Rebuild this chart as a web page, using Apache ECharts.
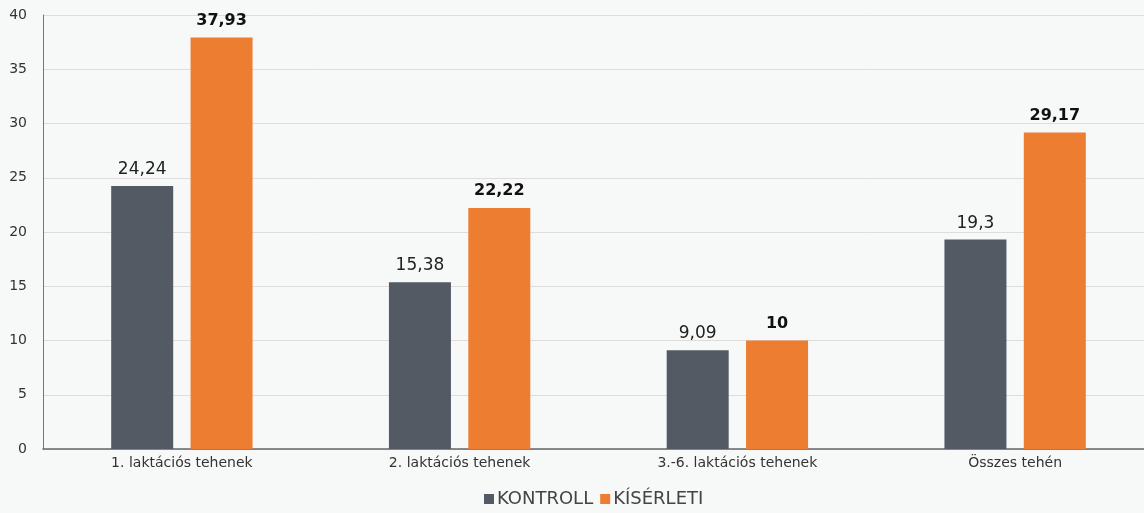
<!DOCTYPE html>
<html>
<head>
<meta charset="utf-8">
<script src="https://cdn.jsdelivr.net/npm/echarts@6/dist/echarts.min.js"></script>
<style>
  html, body { margin: 0; padding: 0; background: #f7f8f8; }
  #chart { width: 1144px; height: 513px; }
</style>
</head>
<body>
<div id="chart"></div>
<script>
// Kategóriák és a két csoport értékei
const categories = ['1. laktációs tehenek', '2. laktációs tehenek', '3.-6. laktációs tehenek', 'Összes tehén'];
const kontroll = [24.24, 15.38, 9.09, 19.3];
const kiserleti = [37.93, 22.22, 10, 29.17];
const seriesNames = ['KONTROLL', 'KÍSÉRLETI'];

const FONT = '"DejaVu Sans", "Noto Sans", sans-serif';
const comma = p => String(p.value).replace('.', ',');

const chart = echarts.init(document.getElementById('chart'));
chart.setOption({
  backgroundColor: '#f7f8f8',
  animation: false,
  textStyle: { fontFamily: FONT },
  grid: { left: 43, top: 15, width: 1111, height: 434, containLabel: false, outerBoundsMode: 'none' },
  legend: {
    data: seriesNames,
    left: 479, bottom: 0,
    icon: 'rect', itemWidth: 10, itemHeight: 10, itemGap: 7,
    textStyle: { fontFamily: FONT, fontSize: 18, color: '#444', padding: [0, 0, 0, -2] }
  },
  xAxis: {
    type: 'category',
    data: categories,
    axisTick: { show: false },
    axisLine: { lineStyle: { color: '#666', width: 1.5 } },
    axisLabel: { fontFamily: FONT, fontSize: 14, color: '#333', margin: 7 }
  },
  yAxis: {
    type: 'value',
    min: 0, max: 40, interval: 5,
    axisLine: { show: true, lineStyle: { color: '#777', width: 1 } },
    axisTick: { show: false },
    splitLine: { lineStyle: { color: '#e0dcdc' } },
    axisLabel: { fontFamily: FONT, fontSize: 14, color: '#333', margin: 16 }
  },
  series: [
    {
      name: seriesNames[0], type: 'bar', data: kontroll,
      barWidth: 62, barGap: '28%',
      itemStyle: { color: '#535a63' },
      label: { show: true, position: 'top', distance: 8, formatter: comma,
               fontFamily: FONT, fontSize: 17, color: '#222' }
    },
    {
      name: seriesNames[1], type: 'bar', data: kiserleti,
      barWidth: 62,
      itemStyle: { color: '#ed7d31' },
      label: { show: true, position: 'top', distance: 9, formatter: comma,
               fontFamily: FONT, fontSize: 16, fontWeight: 'bold', color: '#111' }
    }
  ]
});
</script>
</body>
</html>
